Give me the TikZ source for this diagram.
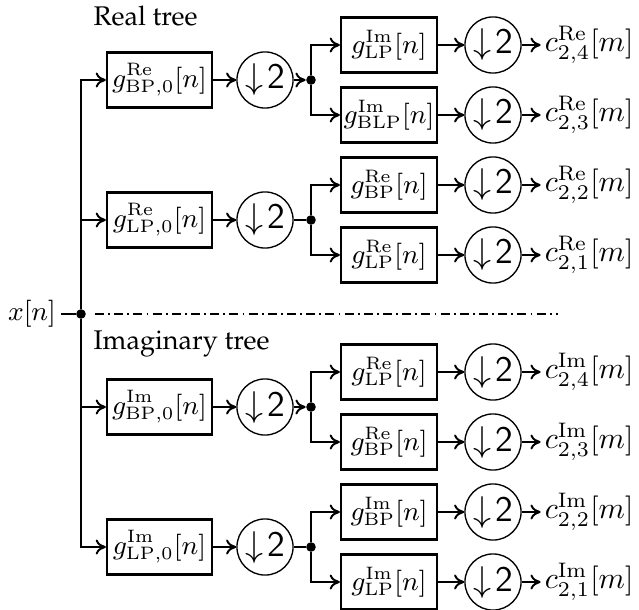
\documentclass[tikz,border=0pt]{standalone}
\usepackage{amsmath,amssymb}
\usepackage[T1,TU]{fontenc}
\usepackage{tikz}
\usetikzlibrary{arrows.meta,calc,positioning}
\newcommand{\treefont}{\usefont{T1}{ppl}{m}{n}\small}
\newcommand{\dtwo}{\large$\downarrow\!\mathsf{2}$}
\tikzset{
  filt/.style={draw,line width=.75pt,minimum height=18.3pt,inner sep=0pt,font=\small},
  dsamp/.style={circle,draw,line width=.45pt,minimum size=18.7pt,inner sep=0pt},
  junc/.style={circle,fill,inner sep=0pt,minimum size=3.2pt},
  wire/.style={line width=.65pt},
  conn/.style={wire,-{To[length=3.4pt,width=5pt]}},
  divider/.style={line width=.6pt,dash pattern=on 3pt off 1.4pt on .6pt off 1.4pt},
}
\newcommand{\stage}[4]{%
  \node[filt,minimum width=35pt] (b#1) at (159.5,#2) {#3};
  \node[dsamp] (s#1) at (265,#2) {\dtwo};
  \node[junc] (j#1) at (311,#2) {};
  \draw[conn] (b#1) -- (s#1);
  \draw[#4] (s#1) -- (j#1);
}
\newcommand{\leaf}[4]{%
  \node[filt,minimum width=32pt] (f#1) at (389,#2) {\makebox[29pt]{#3}};
  \node[dsamp] (d#1) at (493,#2) {\dtwo};
  \node[right=6.3pt of d#1,inner sep=1.2pt,font=\normalsize] (c#1) {#4};
  \draw[conn] (f#1) -- (d#1);
  \draw[conn] (d#1) -- (c#1);
}

\begin{document}
\begin{tikzpicture}[x=.3333pt,y=-.3333pt]
    \useasboundingbox (0,0) rectangle (639,610);
    \node[anchor=base west,inner sep=0pt,font=\treefont] (realhead) at (93,26) {Real tree};
    \node[anchor=base west,inner sep=0pt,font=\treefont] (imaghead) at (93,349) {Imaginary tree};
    \node[font=\small,inner sep=1.5pt] (xin) at (32,314) {$x[n]$};
    \node[junc] (j0) at (81,314) {};
    \coordinate (divl) at (95,314);
    \coordinate (divr) at (558,314);
    \draw[wire] (xin) -- (j0);
    \draw[divider] (divl) -- (divr);
    \stage{1}{80}{$g^{\mathrm{Re}}_{\mathrm{BP},0}[n]$}{conn}
    \stage{2}{220}{$g^{\mathrm{Re}}_{\mathrm{LP},0}[n]$}{wire}
    \stage{3}{407}{$g^{\mathrm{Im}}_{\mathrm{BP},0}[n]$}{conn}
    \stage{4}{547}{$g^{\mathrm{Im}}_{\mathrm{LP},0}[n]$}{wire}
    \leaf{1}{45}{$g^{\mathrm{Im}}_{\mathrm{LP}}[n]$}{$c^{\mathrm{Re}}_{2,4}[m]$}
    \leaf{2}{115}{$g^{\mathrm{Im}}_{\mathrm{BLP}}[n]$}{$c^{\mathrm{Re}}_{2,3}[m]$}
    \leaf{3}{185}{$g^{\mathrm{Re}}_{\mathrm{BP}}[n]$}{$c^{\mathrm{Re}}_{2,2}[m]$}
    \leaf{4}{255}{$g^{\mathrm{Re}}_{\mathrm{LP}}[n]$}{$c^{\mathrm{Re}}_{2,1}[m]$}
    \leaf{5}{372}{$g^{\mathrm{Re}}_{\mathrm{LP}}[n]$}{$c^{\mathrm{Im}}_{2,4}[m]$}
    \leaf{6}{442}{$g^{\mathrm{Re}}_{\mathrm{BP}}[n]$}{$c^{\mathrm{Im}}_{2,3}[m]$}
    \leaf{7}{512}{$g^{\mathrm{Im}}_{\mathrm{BP}}[n]$}{$c^{\mathrm{Im}}_{2,2}[m]$}
    \leaf{8}{582}{$g^{\mathrm{Im}}_{\mathrm{LP}}[n]$}{$c^{\mathrm{Im}}_{2,1}[m]$}
    \foreach \st in {1,2,3,4}{\draw[conn] (j0) |- (b\st);}
    \foreach \st/\up/\dn in {1/1/2,2/3/4,3/5/6,4/7/8}{
      \draw[conn] (j\st) |- (f\up);
      \draw[conn] (j\st) |- (f\dn);
    }
\end{tikzpicture}
\end{document}
